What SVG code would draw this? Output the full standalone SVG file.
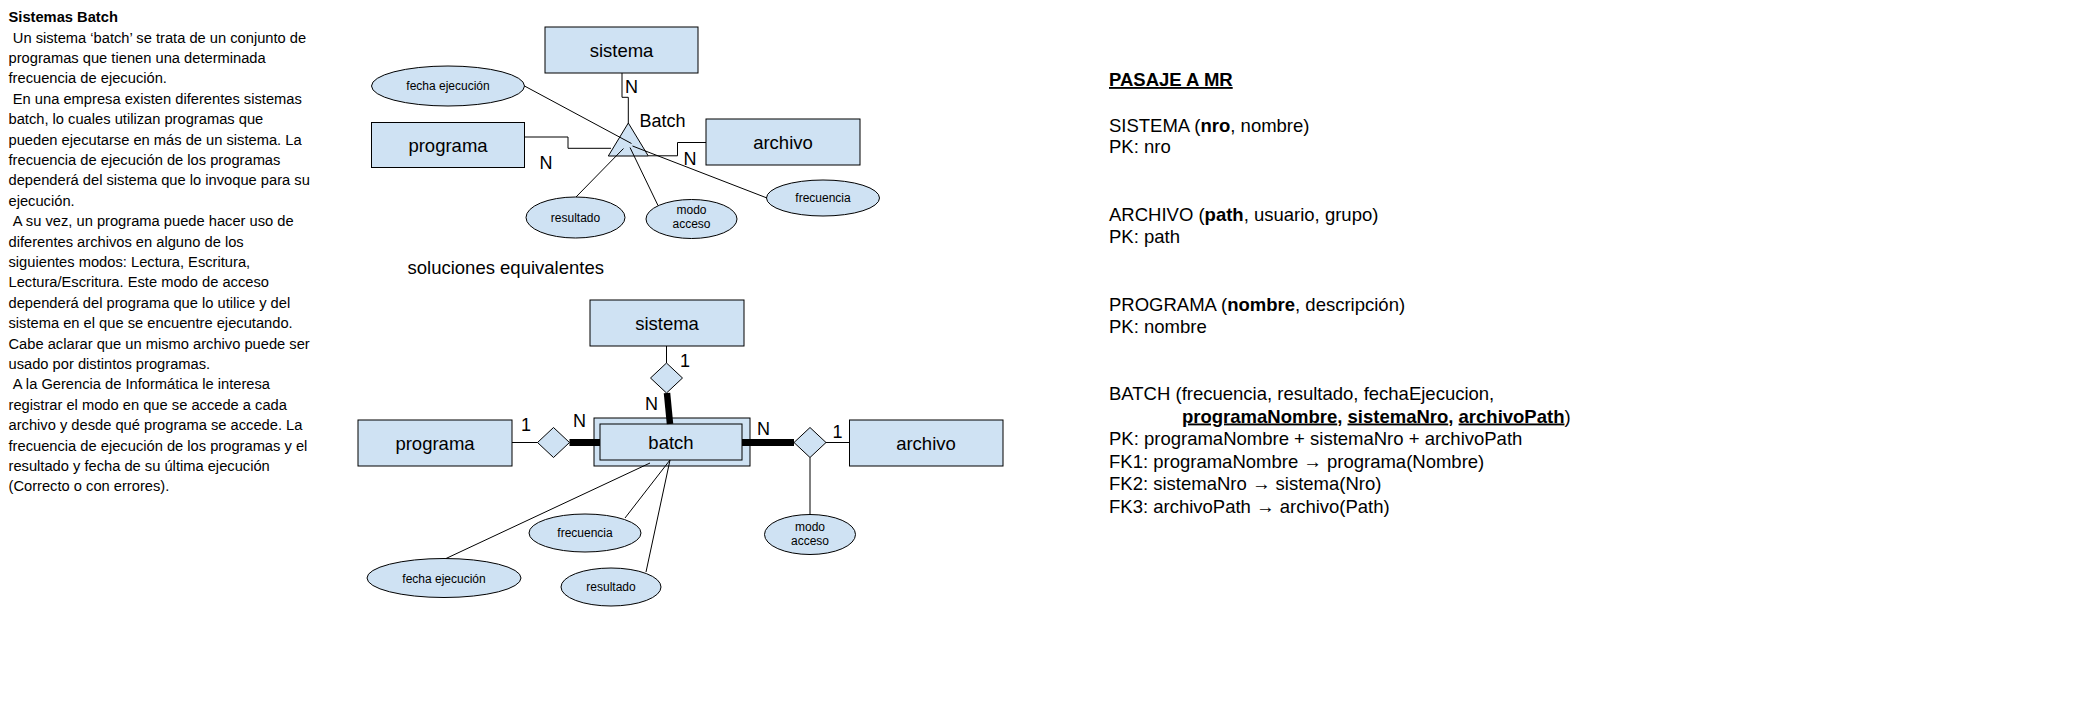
<svg xmlns="http://www.w3.org/2000/svg" width="2088" height="712" viewBox="0 0 2088 712">
<style>
text{font-family:"Liberation Sans",Arial,sans-serif;fill:#000}
.body{font-size:14.7px}
.ent{font-size:18.5px;text-anchor:middle}
.lbl{font-size:18px}
.att{font-size:12px;text-anchor:middle}
.mr{font-size:18.5px}
.box{fill:#cfe2f3;stroke:#000;stroke-width:1}
.ln{fill:none;stroke:#000;stroke-width:1}
.thick{fill:none;stroke:#000;stroke-width:7}
</style>
<rect width="2088" height="712" fill="#fff"/>

<g id="enunciado" class="body">
<text x="8.5" y="21.7" font-weight="bold">Sistemas Batch</text>
<text x="12.8" y="42.5">Un sistema ‘batch’ se trata de un conjunto de</text>
<text x="8.5" y="62.9">programas que tienen una determinada</text>
<text x="8.5" y="83.3">frecuencia de ejecución.</text>
<text x="12.8" y="103.7">En una empresa existen diferentes sistemas</text>
<text x="8.5" y="124.1">batch, lo cuales utilizan programas que</text>
<text x="8.5" y="144.5">pueden ejecutarse en más de un sistema. La</text>
<text x="8.5" y="164.9">frecuencia de ejecución de los programas</text>
<text x="8.5" y="185.3">dependerá del sistema que lo invoque para su</text>
<text x="8.5" y="205.7">ejecución.</text>
<text x="12.8" y="226.1">A su vez, un programa puede hacer uso de</text>
<text x="8.5" y="246.5">diferentes archivos en alguno de los</text>
<text x="8.5" y="266.9">siguientes modos: Lectura, Escritura,</text>
<text x="8.5" y="287.3">Lectura/Escritura. Este modo de acceso</text>
<text x="8.5" y="307.7">dependerá del programa que lo utilice y del</text>
<text x="8.5" y="328.1">sistema en el que se encuentre ejecutando.</text>
<text x="8.5" y="348.5">Cabe aclarar que un mismo archivo puede ser</text>
<text x="8.5" y="368.9">usado por distintos programas.</text>
<text x="12.8" y="389.3">A la Gerencia de Informática le interesa</text>
<text x="8.5" y="409.7">registrar el modo en que se accede a cada</text>
<text x="8.5" y="430.1">archivo y desde qué programa se accede. La</text>
<text x="8.5" y="450.5">frecuencia de ejecución de los programas y el</text>
<text x="8.5" y="470.9">resultado y fecha de su última ejecución</text>
<text x="8.5" y="491.3">(Correcto o con errores).</text>
</g>

<!-- top diagram -->
<g id="t_sistema"><rect class="box" x="545" y="27" width="153" height="46"/><text class="ent" x="621.5" y="56.5">sistema</text></g>
<g id="t_programa"><rect class="box" x="371.5" y="122.5" width="153" height="45"/><text class="ent" x="448" y="151.5">programa</text></g>
<g id="t_archivo"><rect class="box" x="706" y="119" width="154" height="46"/><text class="ent" x="783" y="148.5">archivo</text></g>
<g id="t_batch"><polygon class="box" points="628.3,123 608.3,156 648.3,156"/><text class="lbl" x="639.5" y="126.5">Batch</text></g>
<g id="t_fecha"><ellipse class="box" cx="448" cy="86" rx="76.5" ry="20"/><text class="att" x="448" y="90">fecha ejecución</text></g>
<g id="t_resultado"><ellipse class="box" cx="575.5" cy="217.5" rx="49.5" ry="20.5"/><text class="att" x="575.5" y="221.5">resultado</text></g>
<g id="t_modo"><ellipse class="box" cx="691.5" cy="219" rx="45.5" ry="19.5"/><text class="att" x="691.5" y="214">modo</text><text class="att" x="691.5" y="228">acceso</text></g>
<g id="t_frecuencia"><ellipse class="box" cx="823" cy="198" rx="56.5" ry="18"/><text class="att" x="823" y="202">frecuencia</text></g>

<!-- bottom diagram -->
<text id="subtitulo" class="lbl" x="407.5" y="273.5" style="font-size:18.5px">soluciones equivalentes</text>
<g id="b_sistema"><rect class="box" x="590" y="300" width="154" height="46"/><text class="ent" x="667" y="329.5">sistema</text></g>
<g id="b_rel_sistema"><polygon class="box" points="666.5,363 682.5,378 666.5,393 650.5,378"/></g>
<g id="b_programa"><rect class="box" x="358" y="420" width="154" height="46"/><text class="ent" x="435" y="449.5">programa</text></g>
<g id="b_rel_programa"><polygon class="box" points="553.5,427.5 569.5,442.5 553.5,457.5 537.5,442.5"/></g>
<g id="b_batch"><rect class="box" x="594" y="418" width="156" height="48"/><rect class="box" x="600" y="424" width="142" height="36"/><text class="ent" x="671" y="448.5">batch</text></g>
<g id="b_rel_archivo"><polygon class="box" points="810,427.5 826,442.5 810,457.5 794,442.5"/></g>
<g id="b_archivo"><rect class="box" x="849.5" y="420" width="153.5" height="46"/><text class="ent" x="926" y="449.5">archivo</text></g>
<g id="b_modo"><ellipse class="box" cx="810" cy="534.5" rx="45.5" ry="20"/><text class="att" x="810" y="530.5">modo</text><text class="att" x="810" y="545">acceso</text></g>
<g id="b_frecuencia"><ellipse class="box" cx="585" cy="533" rx="56" ry="19"/><text class="att" x="585" y="537">frecuencia</text></g>
<g id="b_fecha"><ellipse class="box" cx="444" cy="578" rx="77" ry="19.5"/><text class="att" x="444" y="582.5">fecha ejecución</text></g>
<g id="b_resultado"><ellipse class="box" cx="611" cy="587" rx="50" ry="19"/><text class="att" x="611" y="591">resultado</text></g>

<g id="connectors">
<path class="ln" d="M622,73 V97.3 H628.3 V123"/>
<path class="ln" d="M524.5,137 H568 V148.3 H611"/>
<path class="ln" d="M706,142.5 H677.5 V155.8 H648.3"/>
<path class="ln" d="M524.5,86 L631.5,143.5"/>
<path class="ln" d="M767,198 L632.5,146"/>
<path class="ln" d="M576,197 L623.5,148.5"/>
<path class="ln" d="M658,205.5 L630,147.5"/>
<path class="ln" d="M666.5,346 V363"/>
<path class="thick" d="M667,393 L670,424" style="stroke-width:6.5"/>
<path class="ln" d="M512,442.5 H537.5"/>
<path class="thick" d="M569.5,442.5 H600"/>
<path class="thick" d="M742,442.5 H794"/>
<path class="ln" d="M826,442.5 H849.5"/>
<path class="ln" d="M810,457.5 V514.5"/>
<path class="ln" d="M650,463 L446,558.5"/>
<path class="ln" d="M670,460 L625,518"/>
<path class="ln" d="M670,460 L646,572"/>
</g>

<g id="cardinalidades" class="lbl">
<text x="625" y="93">N</text>
<text x="539.5" y="169">N</text>
<text x="683.5" y="165">N</text>
<text x="680" y="366.5">1</text>
<text x="645" y="410">N</text>
<text x="521" y="431">1</text>
<text x="573" y="427">N</text>
<text x="757" y="434.5">N</text>
<text x="832.5" y="438">1</text>
</g>

<g id="pasaje" class="mr">
<text x="1109" y="86" font-weight="bold" text-decoration="underline">PASAJE A MR</text>
<text x="1109" y="131.5">SISTEMA (<tspan font-weight="bold">nro</tspan>, nombre)</text>
<text x="1109" y="153">PK: nro</text>
<text x="1109" y="221">ARCHIVO (<tspan font-weight="bold">path</tspan>, usuario, grupo)</text>
<text x="1109" y="242.5">PK: path</text>
<text x="1109" y="310.5">PROGRAMA (<tspan font-weight="bold">nombre</tspan>, descripción)</text>
<text x="1109" y="332.5">PK: nombre</text>
<text x="1109" y="400">BATCH (frecuencia, resultado, fechaEjecucion,</text>
<text x="1182" y="422.5"><tspan font-weight="bold" text-decoration="underline">programaNombre</tspan><tspan font-weight="bold">, </tspan><tspan font-weight="bold" text-decoration="underline">sistemaNro</tspan><tspan font-weight="bold">, </tspan><tspan font-weight="bold" text-decoration="underline">archivoPath</tspan>)</text>
<text x="1109" y="445">PK: programaNombre + sistemaNro + archivoPath</text>
<text x="1109" y="467.5">FK1: programaNombre → programa(Nombre)</text>
<text x="1109" y="490">FK2: sistemaNro → sistema(Nro)</text>
<text x="1109" y="512.5">FK3: archivoPath → archivo(Path)</text>
</g>
</svg>
